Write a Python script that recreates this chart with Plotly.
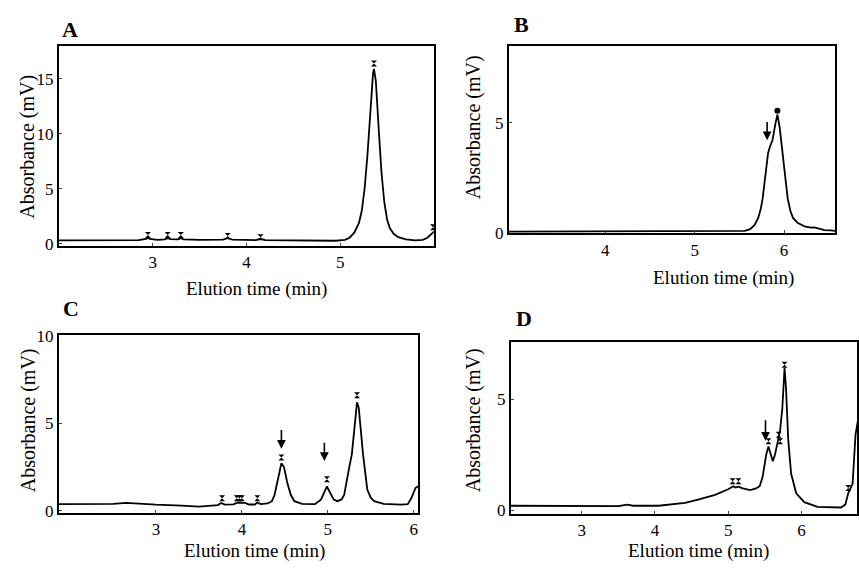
import plotly.graph_objects as go

W, H = 859, 572

# ---------------- data ----------------
A_x = [2.0, 2.5, 2.85, 2.93, 2.95, 2.97, 3.05, 3.13, 3.16, 3.19, 3.27, 3.3, 3.33, 3.5, 3.75, 3.8, 3.85,
       4.1, 4.15, 4.2, 4.6, 4.95, 5.05, 5.1, 5.15, 5.2, 5.23, 5.26, 5.29, 5.32, 5.35, 5.36, 5.38, 5.41,
       5.44, 5.47, 5.5, 5.53, 5.57, 5.62, 5.7, 5.8, 5.88, 5.93, 5.97, 6.0]
A_y = [0.3, 0.3, 0.32, 0.45, 0.55, 0.45, 0.35, 0.4, 0.5, 0.42, 0.4, 0.5, 0.4, 0.35, 0.37, 0.5, 0.38,
       0.33, 0.45, 0.33, 0.28, 0.27, 0.35, 0.55, 1.0, 1.9, 3.0, 5.0, 8.0, 12.0, 15.5, 15.9, 14.8, 10.5,
       6.5, 3.8, 2.2, 1.4, 0.9, 0.6, 0.4, 0.3, 0.35, 0.55, 0.9, 1.1]
A_mx = [2.95, 3.16, 3.3, 3.8, 4.15, 5.36, 5.99]
A_my = [0.8, 0.8, 0.8, 0.7, 0.6, 16.4, 1.5]

B_x = [2.92, 4.0, 5.0, 5.5, 5.56, 5.62, 5.67, 5.71, 5.74, 5.76, 5.78, 5.80, 5.82, 5.84, 5.87, 5.9,
       5.925, 5.95, 5.98, 6.0, 6.02, 6.04, 6.07, 6.10, 6.15, 6.23, 6.3, 6.34, 6.38, 6.45, 6.52, 6.57]
B_y = [0.05, 0.05, 0.05, 0.05, 0.08, 0.16, 0.35, 0.67, 1.1, 1.56, 2.3, 3.0, 3.6, 3.9, 4.2, 4.9,
       5.37, 4.8, 3.8, 3.0, 2.2, 1.56, 1.0, 0.67, 0.45, 0.28, 0.23, 0.24, 0.2, 0.12, 0.1, 0.08]
B_mx = [5.925]
B_my = [5.55]

C_x = [1.87, 2.2, 2.5, 2.65, 2.8, 3.0, 3.3, 3.5, 3.65, 3.72, 3.76, 3.8, 3.9, 3.95, 4.0, 4.04, 4.08,
       4.15, 4.18, 4.22, 4.3, 4.35, 4.38, 4.41, 4.44, 4.46, 4.49, 4.53, 4.57, 4.61, 4.7, 4.85, 4.92,
       4.96, 4.99, 5.03, 5.07, 5.11, 5.16, 5.19, 5.22, 5.25, 5.28, 5.31, 5.34, 5.36, 5.38, 5.41, 5.44,
       5.46, 5.5, 5.54, 5.65, 5.85, 5.93, 5.97, 6.02, 6.05]
C_y = [0.38, 0.38, 0.4, 0.45, 0.4, 0.35, 0.3, 0.24, 0.3, 0.33, 0.45, 0.35, 0.37, 0.47, 0.45, 0.45, 0.36,
       0.36, 0.47, 0.38, 0.42, 0.55, 0.9, 1.57, 2.3, 2.72, 2.5, 1.57, 0.9, 0.55, 0.4, 0.38, 0.64,
       1.1, 1.39, 1.0, 0.64, 0.55, 0.65, 0.9, 1.6, 2.5, 3.24, 4.8, 6.2, 5.9, 4.8, 3.24, 2.0,
       1.2, 0.75, 0.55, 0.4, 0.35, 0.38, 0.7, 1.3, 1.4]
C_mx = [3.77, 3.94, 3.97, 4.0, 4.18, 4.46, 4.99, 5.34]
C_my = [0.72, 0.72, 0.72, 0.72, 0.72, 3.05, 1.8, 6.6]

D_x = [2.03, 2.5, 3.0, 3.5, 3.62, 3.7, 4.05, 4.41, 4.59, 4.82, 5.0, 5.07, 5.1, 5.14, 5.2, 5.3, 5.38,
       5.43, 5.47, 5.5, 5.52, 5.55, 5.58, 5.61, 5.64, 5.68, 5.71, 5.74, 5.77, 5.79, 5.82, 5.86, 5.93,
       6.04, 6.22, 6.54, 6.6, 6.64, 6.7, 6.74, 6.77]
D_y = [0.2, 0.2, 0.18, 0.18, 0.25, 0.2, 0.2, 0.33, 0.47, 0.69, 0.94, 1.08, 1.02, 1.06, 0.98, 0.9, 0.98,
       1.08, 1.49, 2.1, 2.51, 2.87, 2.5, 2.2, 2.5, 3.05, 3.6, 4.6, 6.4, 5.5, 3.2, 1.64, 0.76,
       0.36, 0.15, 0.12, 0.25, 0.76, 1.2, 3.4, 4.0]
D_mx = [5.06, 5.14, 5.55, 5.69, 5.71, 5.77, 6.64]
D_my = [1.3, 1.3, 3.1, 3.4, 3.1, 6.55, 1.0]

# arrows: (x, y_tail, y_tip)
B_arrows = [(5.81, 5.1, 4.2)]
C_arrows = [(4.46, 4.7, 3.55), (4.96, 3.98, 2.85)]
D_arrows = [(5.51, 4.12, 3.12)]

X_TICKS = {"A": [3, 4, 5], "B": [4, 5, 6], "C": [3, 4, 5, 6], "D": [3, 4, 5, 6]}
Y_TICKS = {"A": [0, 5, 10, 15], "B": [0, 5], "C": [0, 5, 10], "D": [0, 5]}

# ---------------- layout geometry (pixels) ----------------
panels = {
    # name: (axis suffix, left, right, top, bottom, xrange, yrange)
    "A": ("", 59, 435, 39, 245, [2.0, 6.0], [-0.18, 18.0]),
    "B": ("2", 510, 837, 39, 232, [2.92, 6.57], [-0.02, 8.5]),
    "C": ("3", 59, 419, 337, 520, [1.87, 6.05], [-0.1, 10.05]),
    "D": ("4", 512, 859, 344, 521, [2.03, 6.76], [-0.15, 7.58]),
}
data = {
    "A": (A_x, A_y, A_mx, A_my, "hourglass", []),
    "B": (B_x, B_y, B_mx, B_my, "circle", B_arrows),
    "C": (C_x, C_y, C_mx, C_my, "hourglass", C_arrows),
    "D": (D_x, D_y, D_mx, D_my, "hourglass", D_arrows),
}
labels_pos = {"A": (70, 22), "B": (523, 17), "C": (71, 310), "D": (525, 320)}
ytitle_pos = {"A": (28, 143), "B": (474, 123), "C": (28, 425), "D": (474, 425)}
xtitle_pos = {"A": (257, 290), "B": (725, 278), "C": (255, 560), "D": (700, 560)}

FONT = '"Liberation Serif", "Times New Roman", serif'

def px(x):
    return x / W

def py(y):
    return 1 - y / H

fig = go.Figure()
layout = dict(
    width=W, height=H, margin=dict(l=0, r=0, t=0, b=0, pad=0),
    paper_bgcolor="white", plot_bgcolor="white", showlegend=False,
    font=dict(family=FONT, size=17, color="black"),
)
annotations = []

for name, (suf, l, r, t, b, xr, yr) in panels.items():
    xs, ys, mx, my, sym, arrows = data[name]
    xa = "x" + suf
    ya = "y" + suf
    fig.add_trace(go.Scatter(x=xs, y=ys, mode="lines", xaxis=xa, yaxis=ya,
                             line=dict(color="black", width=1.8), hoverinfo="skip"))
    fig.add_trace(go.Scatter(x=mx, y=my, mode="markers", xaxis=xa, yaxis=ya,
                             marker=dict(symbol=sym, size=6, color="black"), hoverinfo="skip"))
    layout["xaxis" + suf] = dict(
        domain=[px(l), px(r)], range=xr, anchor=ya, tickvals=X_TICKS[name],
        showline=True, mirror=True, linewidth=2, linecolor="black",
        ticks="inside", ticklen=3, tickwidth=1, showgrid=False, zeroline=False,
        tickfont=dict(family=FONT, size=17),
    )
    layout["yaxis" + suf] = dict(
        domain=[py(b), py(t)], range=yr, anchor=xa, tickvals=Y_TICKS[name],
        showline=True, mirror=True, linewidth=2, linecolor="black",
        ticks="inside", ticklen=3, tickwidth=1, showgrid=False, zeroline=False,
        tickfont=dict(family=FONT, size=17),
    )
    for (ax_, y_tail, y_tip) in arrows:
        annotations.append(dict(
            x=ax_, y=y_tip, ax=ax_, ay=y_tail, xref=xa, yref=ya, axref=xa, ayref=ya,
            showarrow=True, arrowhead=2, arrowsize=1.1, arrowwidth=1.6, arrowcolor="black", text="",
        ))
    lx, ly = labels_pos[name]
    annotations.append(dict(x=px(lx), y=py(ly), xref="paper", yref="paper", text="<b>%s</b>" % name,
                            showarrow=False, font=dict(family=FONT, size=22, color="black"),
                            xanchor="center", yanchor="middle"))
    tx, ty = ytitle_pos[name]
    annotations.append(dict(x=px(tx), y=py(ty), xref="paper", yref="paper", text="Absorbance (mV)",
                            textangle=-90, showarrow=False, font=dict(family=FONT, size=20, color="black"),
                            xanchor="center", yanchor="middle"))
    tx, ty = xtitle_pos[name]
    annotations.append(dict(x=px(tx), y=py(ty), xref="paper", yref="paper", text="Elution time (min)",
                            showarrow=False, font=dict(family=FONT, size=19, color="black"),
                            xanchor="center", yanchor="middle"))

layout["annotations"] = annotations
fig.update_layout(**layout)
fig.write_html("out.html", config={"displayModeBar": False},
               post_script="document.body.style.margin='0';document.body.style.overflow='hidden';")
